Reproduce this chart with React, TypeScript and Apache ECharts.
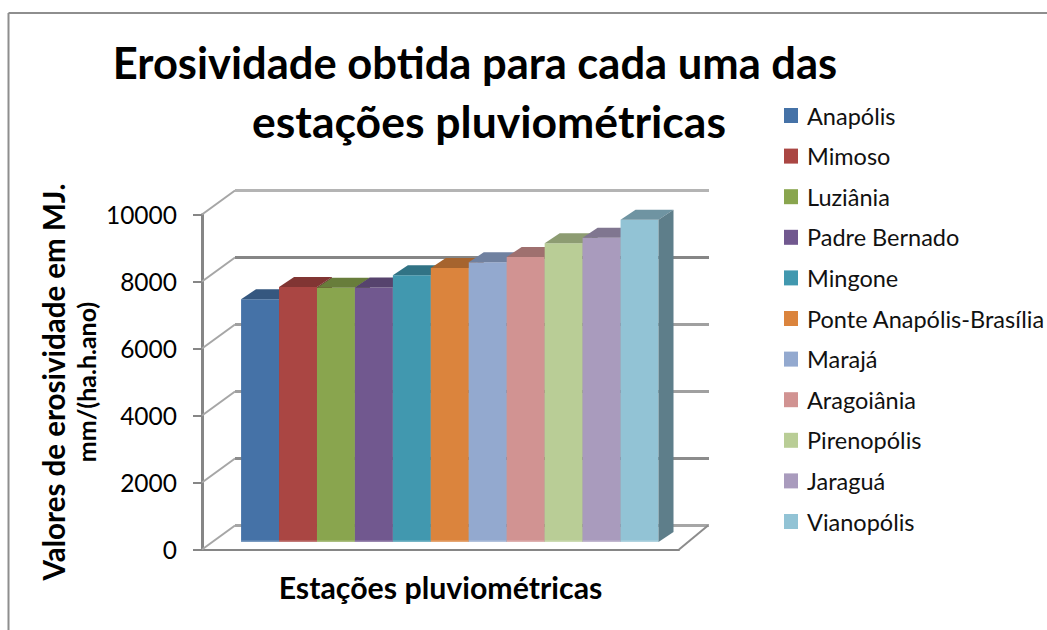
import React, { useEffect, useRef } from "react";
import * as echarts from "echarts";

const stations = ["Anapólis", "Mimoso", "Luziânia", "Padre Bernado", "Mingone", "Ponte Anapólis-Brasília", "Marajá", "Aragoiânia", "Pirenopólis", "Jaraguá", "Vianopólis"];
const erosivity = [7250, 7610, 7590, 7600, 7960, 8180, 8350, 8510, 8920, 9080, 9620];
const frontColors = ["#4572A7", "#AA4643", "#89A54E", "#71588F", "#4198AF", "#DB843D", "#93A9CF", "#D19392", "#B9CD96", "#A99BBD", "#92C3D5"];
const topColors = ["#35577F", "#813533", "#687D3B", "#56436D", "#317385", "#A6642E", "#7081A0", "#9F706F", "#8D9C72", "#807690", "#6F94A2"];
const sideColors = ["#2D4A6C", "#6E2D2B", "#586A32", "#49395D", "#2A6271", "#8D5527", "#5F6E88", "#875F5E", "#788561", "#6D647A", "#5E7E8A"];
const wallTicks = [0, 2000, 4000, 6000, 8000, 10000];
const wallColors = ["#A6A6A6", "#8C8C8C", "#A0A0A0", "#A0A0A0", "#868686", "#B4B4B4"];

const AXIS = "#868686";
const X_MIN = -1.03;
const X_MAX = 11.54;
const WALL_DX = 33;
const WALL_DY = -24;
const WALL_RIGHT = 30;
const BAR_DY = -7.5;
const DEPTH_X = 15;
const DEPTH_Y = -10;
const FONT = "Lato";

function renderBar(i: number) {
  return (_: any, api: any) => {
    const left = api.coord([api.value(0), api.value(1)]);
    const right = api.coord([api.value(0) + 1, api.value(1)]);
    const base = api.coord([api.value(0), 0]);
    const top = left[1] + BAR_DY;
    const bottom = base[1] + BAR_DY;
    return {
      type: "group",
      children: [
        { type: "rect", shape: { x: left[0], y: top, width: right[0] - left[0], height: bottom - top }, style: { fill: frontColors[i] } },
        { type: "rect", shape: { x: left[0], y: bottom - 1.5, width: right[0] - left[0], height: 1.5 }, style: { fill: "rgba(255,255,255,0.28)" } },
        { type: "polygon", shape: { points: [[left[0], top], [left[0] + DEPTH_X, top + DEPTH_Y], [right[0] + DEPTH_X, top + DEPTH_Y], [right[0], top]] }, style: { fill: topColors[i] } },
        { type: "polygon", shape: { points: [[right[0], top], [right[0] + DEPTH_X, top + DEPTH_Y], [right[0] + DEPTH_X, bottom + DEPTH_Y], [right[0], bottom]] }, style: { fill: sideColors[i] } },
      ],
    };
  };
}

function renderWall(params: any, api: any) {
  const a = api.coord([X_MIN, api.value(0)]);
  const b = api.coord([X_MAX, api.value(0)]);
  const y = a[1] + WALL_DY;
  const color = wallColors[params.dataIndex];
  const children: any[] = [
    { type: "line", shape: { x1: a[0], y1: a[1], x2: a[0] + WALL_DX, y2: y }, style: { stroke: "#A6A6A6", lineWidth: 2 } },
    { type: "line", shape: { x1: a[0] + WALL_DX, y1: y, x2: b[0] + WALL_RIGHT, y2: y }, style: { stroke: color, lineWidth: 3 } },
  ];
  if (api.value(0) === 0) {
    children.push({ type: "line", shape: { x1: b[0], y1: b[1], x2: b[0] + WALL_RIGHT - 1, y2: y }, style: { stroke: "#8C8C8C", lineWidth: 2 } });
  }
  return { type: "group", children };
}

export default function App() {
  const ref = useRef<HTMLDivElement>(null);
  useEffect(() => {
    document.body.style.margin = "0";
    const chart = echarts.init(ref.current!, null, { renderer: "svg" });
    chart.setOption({
      animation: false,
      backgroundColor: "#fff",
      textStyle: { fontFamily: FONT },
      title: [
        {
          text: "Erosividade obtida para cada uma das",
          left: 475,
          top: 33,
          textAlign: "center",
          padding: 0,
          textStyle: { fontFamily: FONT, fontWeight: "bold", fontSize: 43.5, lineHeight: 58, color: "#000" },
        },
        {
          text: "estações pluviométricas",
          left: 489,
          top: 91,
          textAlign: "center",
          padding: 0,
          textStyle: { fontFamily: FONT, fontWeight: "bold", fontSize: 44.5, lineHeight: 58, color: "#000" },
        },
      ],
      graphic: [
        { type: "line", silent: true, shape: { x1: 8.5, y1: 13, x2: 1047, y2: 13 }, style: { stroke: "#8E8E8E", lineWidth: 2 } },
        { type: "line", silent: true, shape: { x1: 8.5, y1: 13, x2: 8.5, y2: 630 }, style: { stroke: "#8E8E8E", lineWidth: 2 } },
      ],
      legend: {
        orient: "vertical",
        left: 784,
        top: 103.5,
        padding: 0,
        data: stations,
        icon: "rect",
        itemWidth: 14,
        itemHeight: 15,
        itemGap: 16.6,
        selectedMode: false,
        textStyle: { fontFamily: FONT, fontSize: 23.5, color: "#111", padding: [0, 0, 0, 4] },
      },
      grid: { left: 202, right: 368, top: 214.5, bottom: 80.5 },
      xAxis: {
        type: "value",
        min: X_MIN,
        max: X_MAX,
        name: "Estações pluviométricas",
        nameLocation: "middle",
        nameGap: 22,
        nameTextStyle: { fontFamily: FONT, fontWeight: "bold", fontSize: 30.3, color: "#000" },
        axisLine: { show: true, onZero: false, lineStyle: { color: AXIS, width: 2 } },
        axisTick: { show: false },
        axisLabel: { show: false },
        splitLine: { show: false },
      },
      yAxis: {
        type: "value",
        min: 0,
        max: 10000,
        interval: 2000,
        name: "{a|Valores de erosividade em MJ.}\n{b|mm/(ha.h.ano)}",
        nameLocation: "middle",
        nameGap: 101,
        nameTextStyle: {
          color: "#000",
          rich: {
            a: { fontFamily: FONT, fontWeight: "bold", fontSize: 29.5, lineHeight: 36, color: "#000" },
            b: { fontFamily: FONT, fontWeight: "bold", fontSize: 25, lineHeight: 30, color: "#000" },
          },
        },
        axisLine: { show: true, onZero: false, lineStyle: { color: AXIS, width: 3 } },
        axisTick: { show: true, length: 9, lineStyle: { color: AXIS, width: 2 } },
        axisLabel: { fontFamily: FONT, fontSize: 24.5, color: "#000", margin: 25, formatter: (v: number) => String(v) },
        splitLine: { show: false },
      },
      series: [
        {
          type: "custom",
          name: "walls",
          silent: true,
          renderItem: renderWall,
          data: wallTicks.map((t) => [t]),
          encode: { y: 0 },
          z: 1,
        },
        ...stations.map((name, i) => ({
          type: "custom",
          name,
          silent: true,
          renderItem: renderBar(i),
          itemStyle: { color: frontColors[i] },
          data: [[i, erosivity[i]]],
          encode: { x: 0, y: 1 },
          z: 2 + i,
        })),
      ],
    });
    return () => chart.dispose();
  }, []);
  return <div ref={ref} style={{ width: 1047, height: 630 }} />;
}
